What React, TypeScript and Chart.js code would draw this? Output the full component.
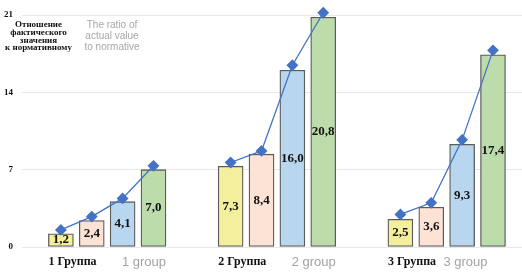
import React, { useEffect, useRef } from "react";
import { Chart, registerables } from "chart.js";

Chart.register(...registerables);

// ---- data ----
const groupsRu = ["1 Группа", "2 Группа", "3 Группа"];
const groupsEn = ["1 group", "2 group", "3 group"];
const seriesYellow = [1.2, 7.3, 2.5];
const seriesPeach = [2.4, 8.4, 3.6];
const seriesBlue = [4.1, 16.0, 9.3];
const seriesGreen = [7.0, 20.8, 17.4];
const lineGroup1 = [1.55, 2.75, 4.4, 7.35];
const lineGroup2 = [7.65, 8.7, 16.45, 21.2];
const lineGroup3 = [2.95, 4.0, 9.7, 17.8];
const yTicks = [0, 7, 14, 21];
const noteRu = ["Отношение", "фактического", "значения", "к нормативному"];
const noteEn = ["The ratio of", "actual value", "to normative"];

// ---- layout / style constants ----
const GROUP_STEP = 5.5;
const SERIF = "'Liberation Serif', 'Times New Roman', serif";
const SANS = "'Liberation Sans', Arial, sans-serif";
const barColors = ["#f4ef9c", "#fce3d5", "#b9d6ef", "#bddcab"];
const LINE_COLOR = "#4472c4";

const seriesAll = [seriesYellow, seriesPeach, seriesBlue, seriesGreen];
const lineAll = [lineGroup1, lineGroup2, lineGroup3];

const fmt = (v: number) => v.toFixed(1).replace(".", ",");

const decorPlugin = {
  id: "decor",
  afterDatasetsDraw(chart: any) {
    const ctx = chart.ctx;
    ctx.save();
    // value labels inside bars
    ctx.font = `bold 13px ${SERIF}`;
    ctx.fillStyle = "#111";
    ctx.textAlign = "center";
    ctx.textBaseline = "middle";
    for (let s = 0; s < 4; s++) {
      const meta = chart.getDatasetMeta(s);
      meta.data.forEach((el: any, i: number) => {
        const cy = (el.y + el.base) / 2;
        ctx.fillText(fmt(seriesAll[s][i]), el.x, cy);
      });
    }
    // group labels under x axis
    const xs = chart.scales.x;
    const enShift = [0, 0, -18];
    groupsRu.forEach((lab, g) => {
      const left = xs.getPixelForValue(g * GROUP_STEP) - 12.5;
      const right = xs.getPixelForValue(g * GROUP_STEP + 3) + 12.5;
      ctx.textBaseline = "middle";
      ctx.font = `bold 12px ${SERIF}`;
      ctx.fillStyle = "#111";
      ctx.textAlign = "left";
      ctx.fillText(lab, left, 262);
      ctx.font = `13px ${SANS}`;
      ctx.fillStyle = "#a3a3a3";
      ctx.textAlign = "right";
      ctx.fillText(groupsEn[g], right + enShift[g], 262);
    });
    // note top-left
    ctx.textAlign = "center";
    ctx.font = `bold 9px ${SERIF}`;
    ctx.fillStyle = "#111";
    noteRu.forEach((t, i) => ctx.fillText(t, 38.5, 25 + i * 7.6));
    ctx.font = `10px ${SANS}`;
    ctx.fillStyle = "#a8a8a8";
    noteEn.forEach((t, i) => ctx.fillText(t, 112, 25.5 + i * 11));
    ctx.restore();
  },
};

export default function App() {
  const ref = useRef<HTMLCanvasElement | null>(null);
  useEffect(() => {
    if (!ref.current) return;
    const barDatasets = seriesAll.map((vals, s) => ({
      type: "bar" as const,
      data: vals.map((v, g) => ({ x: g * GROUP_STEP + s, y: v })),
      backgroundColor: barColors[s],
      borderColor: "#5b5b5b",
      borderWidth: 1.3,
      borderSkipped: false,
      barThickness: 25,
      grouped: false,
      order: 2,
    }));
    const lineDatasets = lineAll.map((vals, g) => ({
      type: "line" as const,
      data: vals.map((v, s) => ({ x: g * GROUP_STEP + s, y: v })),
      borderColor: LINE_COLOR,
      backgroundColor: LINE_COLOR,
      borderWidth: 1.3,
      pointStyle: "rectRot",
      pointRadius: 5,
      pointBackgroundColor: LINE_COLOR,
      pointBorderColor: LINE_COLOR,
      tension: 0,
      clip: false,
      order: 1,
    }));
    const chart = new Chart(ref.current, {
      data: { datasets: [...barDatasets, ...lineDatasets] as any },
      options: {
        animation: false,
        responsive: false,
        maintainAspectRatio: false,
        layout: { autoPadding: false, padding: { top: 15, bottom: 29, left: 0, right: 0 } },
        plugins: { legend: { display: false }, tooltip: { enabled: false } },
        scales: {
          x: {
            type: "linear",
            display: false,
            offset: false,
            min: -1.26,
            max: 14.94,
          },
          y: {
            min: 0,
            max: 21,
            afterFit: (scale: any) => {
              scale.width = 22;
            },
            afterBuildTicks: (scale: any) => {
              scale.ticks = yTicks.map((v) => ({ value: v }));
            },
            border: { display: false },
            grid: { color: "#e8e8e8", lineWidth: 1, drawTicks: false },
            ticks: {
              padding: 9,
              color: "#111",
              font: { family: SERIF, size: 9, weight: "bold" },
            },
          },
        },
      },
      plugins: [decorPlugin],
    } as any);
    return () => chart.destroy();
  }, []);
  return (
    <div style={{ position: "absolute", left: 0, top: 0, width: 522, height: 276, background: "#fff" }}>
      <canvas ref={ref} width={522} height={276} style={{ display: "block" }} />
    </div>
  );
}
